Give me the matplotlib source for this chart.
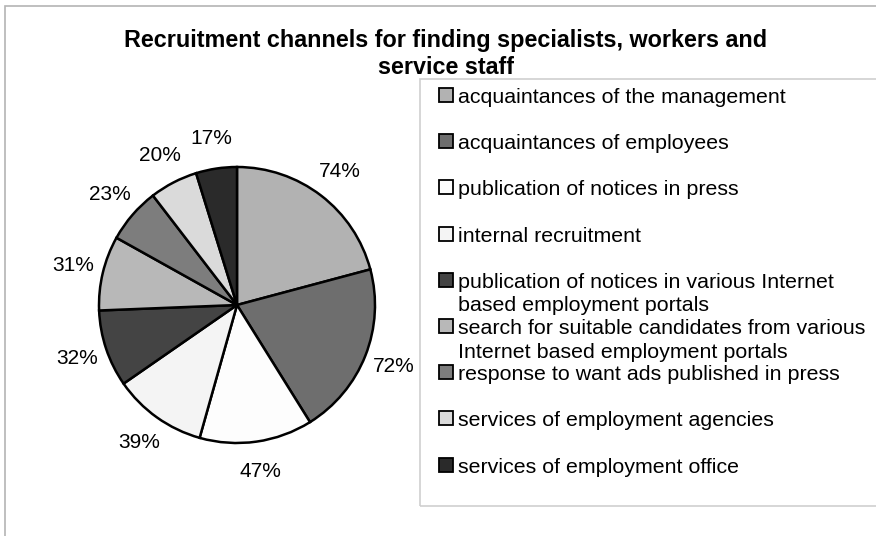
import matplotlib
matplotlib.use("Agg")
import matplotlib.pyplot as plt
from matplotlib.patches import Rectangle

plt.rcParams['font.family'] = ['Liberation Sans', 'DejaVu Sans']

# share of companies using each channel, %
channels = [
    "acquaintances of the management",
    "acquaintances of employees",
    "publication of notices in press",
    "internal recruitment",
    "publication of notices in various Internet\nbased employment portals",
    "search for suitable candidates from various\nInternet based employment portals",
    "response to want ads published in press",
    "services of employment agencies",
    "services of employment office",
]
shares = [74, 72, 47, 39, 32, 31, 23, 20, 17]
greys = ["#b2b2b2", "#6e6e6e", "#fdfdfd", "#f4f4f4", "#444444",
         "#b8b8b8", "#7d7d7d", "#dadada", "#2a2a2a"]

W, H = 876, 536
fig = plt.figure(figsize=(W / 100, H / 100), dpi=100)

def fx(px):
    return px / W

def fy(py):
    return 1 - py / H

# outer frame of the chart area
fig.patches.append(Rectangle((fx(5), fy(540)), fx(880) - fx(5), fy(6) - fy(540),
                             transform=fig.transFigure, fill=False,
                             edgecolor="#b4b4b4", linewidth=1.2))

fig.text(fx(446), fy(41), "Recruitment channels for finding specialists, workers and",
         ha="center", va="center", fontsize=16.8, fontweight="bold")
fig.text(fx(446), fy(67), "service staff",
         ha="center", va="center", fontsize=16.8, fontweight="bold")

# pie
cx, cy, r = 237, 305, 138
half = 172
ax = fig.add_axes([fx(cx - half), fy(cy + half), 2 * half / W, 2 * half / H])
total = sum(shares)
ax.pie(shares, colors=greys, startangle=90, counterclock=False,
       autopct=lambda p: "%d%%" % round(p * total / 100), pctdistance=1.22,
       wedgeprops=dict(edgecolor="black", linewidth=1.8),
       textprops=dict(fontsize=15))
lim = half / r
ax.set_xlim(-lim, lim)
ax.set_ylim(-lim, lim)
ax.set_aspect("auto")
ax.axis("off")

# legend box
fig.patches.append(Rectangle((fx(420), fy(506)), fx(880) - fx(420), fy(79) - fy(506),
                             transform=fig.transFigure, fill=False,
                             edgecolor="#cfcfcf", linewidth=1.2))
top = 95
step = 46.2
for i, (name, c) in enumerate(zip(channels, greys)):
    y = top + i * step
    fig.patches.append(Rectangle((fx(439), fy(y + 7)), 14 / W, 14 / H,
                                 transform=fig.transFigure, facecolor=c,
                                 edgecolor="black", linewidth=1.3))
    fig.text(fx(458), fy(y - 7), name, ha="left", va="top",
             fontsize=15.4, linespacing=1.3)

fig.savefig("out.png", dpi=100)
